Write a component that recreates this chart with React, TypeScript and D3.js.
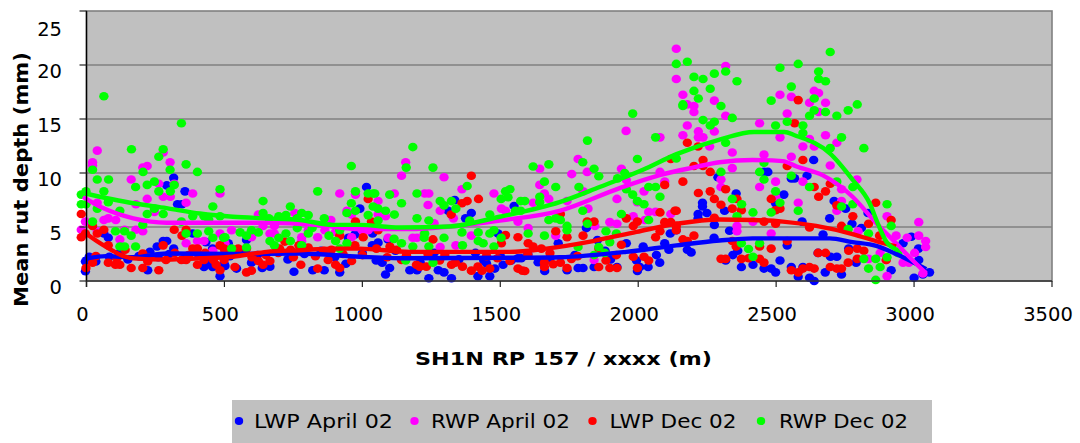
import React from "react";
import * as d3 from "d3";

type P = [number, number];

const xTicks = [0, 500, 1000, 1500, 2000, 2500, 3000, 3500];
const yTicks = [0, 5, 10, 15, 20, 25];

const lwpAprilPoints: P[] = [
[316,9.55],[291,8.85],[357,8.3],[330,7.1],[346,7.1],[63,4.4],[79,4],[278,3.7],[291,3.7],[256,3.2],[316,3],[433,3.6],[385,4.4],[10,2.25],[-4,1.8],[-4,0.9],[83,2.25],[222,1],[457,3],[484,0.45],[457,1.3],[426,1.3],[499,1.6],[34,1.8],
[752,0.85],[820,1],[862,1],[918,0.8],[665,1.33],[637,1.2],[598,1.7],[544,1.15],[1015,8.7],[991,6.7],[973,4.3],[949,4],[1037,4.4],[514,3.5],[580,3.8],[1036,3.3],[502,1.4],
[1323,0.25],[1241,0.25],[1084,0.6],[1099,1.2],[1072,1.7],[1172,1],[1198,1],[1275,1],[1296,0.8],[1419,0.45],[1462,0.45],[1450,1.65],[1480,1.15],[1510,1.5],[1057,3.55],[1093,3.85],[1395,6.3],[1335,7.5],[1311,6.5],[1374,5.8],[1550,6.95],[1492,4.4],[1564,2.1],[1576,2.1],
[1812,4.9],[1710,3.5],[1957,3.5],[1852,3.8],[2096,3.5],[2116,4.4],[2111,2.9],[2066,2.4],[2018,3.2],[2078,1.7],[1994,1.9],[2006,1.3],[2036,1.3],[1661,0.93],[1742,1],[1782,1.2],[1800,1.2],[1840,1.3],[1923,1.3],[1637,1.73],[1997,0.93],
[2233,7.25],[2233,6.9],[2249,6.3],[2217,6.2],[2217,5.8],[2313,6.5],[2289,9.6],[2355,8.1],[2470,10.1],[2456,10.1],[2528,8],[2555,9.5],[2498,7.2],[2138,4.7],[2276,5.2],[2331,4.65],[2275,4],[2178,2.9],[2192,2.65],[2343,2.4],[2361,2.8],[2317,1.9],[2374,1.3],[2416,1.5],[2456,1.15],[2482,1.15],[2498,0.8],[2514,1.9],[2555,1.3],[2540,3.3],
[2636,11.2],[2612,9.75],[2567,9.5],[2710,7.4],[2752,6.7],[2833,6.3],[2694,5.8],[2594,5.5],[2775,5.3],[2809,4.9],[2670,4.3],[2990,4.1],[2960,3.5],[3016,3],[3017,1.95],[2697,2.25],[2720,2.25],[2652,2.6],[2763,3],[2790,1.7],[2917,1],[3056,0.8],[3032,0.6],[3000,0.3],[2580,0.4],[2621,0.3],[2638,0],[2678,0.8],[2737,0.6],[2597,1.3],
[120,2.6],[150,2],[190,2.3],[230,2.7],[260,2.2],[300,2.5],[350,2],[400,2.6],[450,1.7],[520,2.3],[560,2.8],[620,2.4],[690,3],[730,2],[790,2.5],[850,2.8],[900,2.2],[940,1.6],[1000,2.6],[1050,1.9],[1120,2.8],[1160,2.3],[1210,1.7],[1260,2.6],[1350,2],[1410,2.6],[1440,1.9],[1500,2.3],[1540,1.9],[1600,2.5],[1680,2.1],[1770,2.4],[1880,2.8],[1900,2]
];

const rwpAprilPoints: P[] = [
[39,12.07],[22,11],[22,10.7],[204,10.5],[220,10.65],[278,11.9],[303,11],[162,9.4],[262,9],[318,9],[385,8.1],[484,8.1],[278,7.8],[304,7.8],[220,7.6],[361,7.25],[179,7.1],[39,7.25],[246,6.4],[79,5.8],[106,5.65],[-4,5.5],[-19,4.75],[138,4.75],[179,4.75],[204,4.6],[121,3.85],[361,3.5],[402,3.7],[426,3.7],[484,4.4],[458,2.8],[39,4.6],[63,5.65],
[918,8.1],[975,8],[944,6.5],[961,6.15],[755,6.3],[623,6.15],[886,5.65],[526,4.7],[598,4.05],[640,5.1],[681,4.4],[665,4.4],[780,4.05],[780,3.7],[838,4.05],[903,4.55],[961,4.05],[1021,4.7],[999,4.7],[502,3.5],[681,5.1],[804,4.7],[864,4.7],
[1157,11],[1142,9.75],[1296,9.6],[1361,8.5],[1116,8.1],[1226,8.1],[1241,8.1],[1477,8.1],[1057,7.4],[1238,7.04],[1282,6.5],[1504,6.7],[1519,6.5],[1084,6],[1057,6.15],[1330,5.8],[1260,5.35],[1395,4.2],[1183,4],[1198,4],[1093,4],[1224,4.4],[1564,5.5],[1282,3.15],[1339,3.3],
[1956,13.9],[2079,13.3],[1782,11.3],[1643,10.4],[1759,9.9],[1815,10.1],[1939,10.4],[2079,10.1],[2096,9.2],[1957,9.35],[1643,8.9],[1660,8.1],[1676,7.6],[1800,8.3],[1742,7.4],[1923,7.6],[2021,8.3],[1997,7.3],[1818,6.7],[2038,6.4],[2063,6.4],[2118,6.2],[1619,7.25],[1982,6],[2024,5.65],[1601,4.9],[1897,5.45],[1923,5.3],[1843,5.1],[1701,4.2],[1840,1.95],
[2138,21.5],[2317,19.9],[2138,18.7],[2162,17.25],[2276,16.7],[2178,16.35],[2202,16.2],[2202,15.65],[2317,15.3],[2178,14.4],[2276,13.85],[2162,13.5],[2218,13.85],[2218,13.3],[2235,13.3],[2259,12.45],[2341,11.9],[2440,14.6],[2514,17.25],[2555,17.05],[2540,15.5],[2514,13.3],[2456,11.7],[2341,10.45],[2300,9.4],[2300,8.7],[2498,9.2],[2440,8.7],[2358,5.1],[2358,4.6],[2416,5.5],[2482,4.4],[2498,7.8],[2555,11.5],
[2638,17.6],[2654,17.4],[2679,16.5],[2621,16.5],[2654,15.65],[2679,13.5],[2621,13.15],[2720,12.8],[2597,12.45],[2638,12.45],[2696,10.7],[2793,9.4],[2597,9.2],[2737,8.5],[2580,7.25],[2737,7.4],[2720,6.5],[2902,6],[3017,5.45],[2797,4.6],[2935,4.2],[2975,4],[3017,4.2],[3042,3.7],[3042,3.15],[3002,2.6],[2877,2.6],[2835,2.05],[2960,1.7],[2981,1.7],[2902,0.45],[2899,1.95],[3032,0.7]
];

const lwpDecPoints: P[] = [
[-19,6.2],[22,5.1],[-19,4.05],[-4,4.4],[39,4.4],[63,4.75],[318,4.75],[361,4.75],[346,4.2],[79,3.3],[278,3.3],[385,3],[402,3],[484,3.3],[499,3],[-2,1.2],[22,1.7],[79,1.7],[105,1.5],[121,1.5],[162,1.2],[204,1.2],[262,1],[484,1],[402,1.5],[426,1.95],[204,2.55],[222,1.8],[288,1.95],[344,1.95],[361,1.95],[34,2.3],[499,1.95],[460,1.95],
[1021,7.6],[1003,4.05],[918,4.2],[973,3.3],[502,2.7],[538,1.3],[580,0.8],[598,0.96],[623,1.85],[640,1.5],[665,1.85],[777,1.5],[838,1.15],[903,1.5],[961,1.85],[918,1.2],[750,2.2],[876,1.95],[550,3],[580,3],[719,3.65],[695,2.6],[804,3.1],[888,2.9],[975,5.5],[1033,5.5],
[1395,9.75],[1421,7.6],[1380,7.4],[1361,7.2],[1322,6.15],[1256,3.85],[1057,4.7],[1519,4.25],[1564,4.05],[1504,3.5],[1051,3],[1124,2.9],[1238,2.5],[1196,1.5],[1208,1.33],[1232,1.33],[1142,1.95],[1323,1.5],[1337,1.7],[1363,1.33],[1395,0.96],[1419,1.33],[1434,0.96],[1462,1.15],[1535,1.85],[1564,1.15],[1580,0.96],[1299,2.4],
[2096,8.9],[2118,11.3],[1718,6.2],[1815,5.5],[1840,5.5],[1957,5.8],[1997,5.5],[1982,5.1],[2079,6.35],[2133,6.5],[2096,5.45],[2118,5.45],[1701,4.6],[1742,4.05],[1800,4.2],[2079,4.6],[2063,4.05],[1939,3.35],[1601,3.5],[1619,3.2],[1649,3],[1857,3],[1921,2.4],[1982,2.25],[2021,2.25],[2038,1.9],[1883,1.9],[1758,2.05],[1660,1.7],[1660,1.3],[1692,1.55],[1718,1.7],[1742,1.2],[1857,1.3],[1897,1.2],[1923,1.2],[1997,1.2],[1589,0.93],
[2178,12.8],[2217,12.45],[2235,11.2],[2202,10.65],[2235,10.65],[2261,10.1],[2162,9.2],[2317,8.5],[2218,8.15],[2261,8.3],[2276,7.6],[2300,7.06],[2341,6.7],[2358,7.6],[2374,6.55],[2138,6.5],[2482,7.6],[2514,6.7],[2498,6.55],[2540,10.65],[2138,5.1],[2138,4.7],[2276,5.85],[2456,5.5],[2498,5.3],[2202,4.2],[2162,3.85],[2178,3.7],[2341,3.7],[2355,3.2],[2440,3.2],[2482,3],[2540,3.7],[2300,2.05],[2317,2.05],[2374,2.05],[2400,2.1],[2440,2.05],[2456,1.7],[2555,1],
[2580,16.75],[2597,11.2],[2567,14.6],[2696,9],[2638,8.7],[2679,8.3],[2654,7.8],[2861,7.25],[2720,7],[2778,6],[2917,5.65],[2835,5.3],[2737,5.1],[2621,4.95],[2875,4.2],[2763,2.8],[2794,3],[2818,2.8],[2652,2.6],[2679,2.6],[2761,1.7],[2794,2.05],[2899,1.95],[2696,1.3],[2720,1.15],[2737,1.15],[2621,1.3],[2597,1.15],[2638,1.15],[2580,0.8],
[110,2.1],[140,2.9],[230,2.2],[320,2.6],[370,2.4],[430,2.6],[470,1.5],[520,2.5],[600,2.2],[650,2.4],[700,3],[740,2.9],[770,3.3],[830,2.3],[860,2.8],[930,2.5],[1000,2.4],[1090,2.2],[1100,3.2],[1160,2.4],[1280,1.9],[1450,2.3],[1490,2.1],[1600,2.4],[1680,2.6],[1780,2.3]
];

const rwpDecPoints: P[] = [
[63,17.1],[344,14.6],[163,12.2],[278,12.2],[262,11.5],[22,10.3],[303,10.3],[361,10.8],[402,10.1],[205,10.1],[39,9.4],[80,9.4],[246,9.2],[220,8.9],[178,8.7],[318,8.9],[304,8.3],[262,8.3],[63,8.3],[-19,8],[-2,8.3],[484,8.5],[79,7.3],[-19,7.1],[-2,7.1],[39,6.7],[121,6.5],[246,6.7],[458,6.9],[220,6.2],[278,6.2],[385,6],[426,6],[484,6],[22,5.5],[204,5.2],[344,5.5],[443,5.7],[105,4.6],[138,4.6],[162,4.2],[361,4.4],[402,4.4],[443,4.6],[497,4],[458,4],[121,3.2],[138,3.2],[178,3.2],
[960,10.65],[838,8.3],[640,7.4],[975,8.3],[1021,8.1],[1039,8.1],[739,6.9],[960,7.2],[944,6.3],[975,6.5],[1021,6.1],[1039,6.9],[640,6.3],[780,6.3],[723,6.1],[697,6],[804,6.1],[862,5.8],[764,5.8],[661,5.8],[764,4.9],[818,4.9],[918,4.7],[557,4.5],[598,4.7],[623,4.5],[723,4.4],[580,4.2],[804,4.4],[879,4.2],[903,3.7],[739,3.7],[697,4],[665,3.7],[681,3.3],[944,3.5],[502,4.05],[780,3.3],[526,3],[580,3.1],[918,3],
[1183,12.4],[1159,10.5],[1256,10.5],[1380,8.8],[1198,8.1],[1099,8],[1045,8.1],[1142,7.2],[1282,7.4],[1323,7.4],[1503,7.6],[1519,8.3],[1535,8.5],[1528,7.75],[1574,7.4],[1339,6.7],[1296,7],[1057,6.7],[1084,6.5],[1116,6.15],[1198,5.8],[1241,5.6],[1057,5.6],[1389,5.6],[1462,6.15],[1555,6.5],[1574,6.5],[1477,4.7],[1462,4.4],[1420,4.5],[1361,4.5],[1226,4.4],[1224,4],[1296,4],[1503,4],[1115,3.9],[1142,3.5],[1420,3.7],[1438,3.5],[1363,3.3],[1183,3.2],[1241,3.2],[1477,3.2],[1157,1.9],[1256,1.7],
[1980,15.5],[1816,13],[2063,13.3],[1997,11.3],[1799,11],[1619,10.6],[1676,10.8],[1840,10.4],[1857,9.7],[1951,10],[1925,9.5],[1660,9.2],[1701,8.7],[1785,8.7],[1643,7.8],[1643,7.3],[1589,7.4],[1980,8],[1997,7.4],[2021,7.1],[2079,7.8],[2063,8.7],[2038,8.7],[1957,8.5],[1799,6.5],[1939,6.2],[2038,5.65],[1676,5.65],[1701,5.8],[1718,5.65],[1742,5.1],[1742,4.7],[1816,5.3],[1601,4.4],[1660,4.2],[1883,4.6],[1921,4.4],[1897,3.6],[1857,3.15],[1782,3.15],[1879,2.6],[1840,2.4],
[2178,20.3],[2138,20.1],[2276,19.2],[2317,19.4],[2358,18.5],[2202,18.9],[2235,18.7],[2261,17.8],[2202,17.6],[2218,16.9],[2162,16.35],[2162,16.2],[2300,16.2],[2341,15.1],[2235,14.9],[2276,14.75],[2261,14.4],[2317,12.8],[2138,11.35],[2514,19.75],[2555,18],[2482,16.7],[2540,14.75],[2498,14.4],[2300,10.1],[2456,10.95],[2440,10.1],[2555,9.75],[2456,9.4],[2498,8.3],[2514,7.25],[2341,7.6],[2375,7.1],[2482,6.35],[2416,6.35],[2358,6],[2440,3.5],[2400,2.96],[2416,2.25],[2374,3.5],
[2696,21.2],[2580,20.1],[2654,19.4],[2654,18.7],[2679,18.5],[2638,16.9],[2638,15.8],[2679,15.65],[2621,15.3],[2720,15.3],[2761,15.8],[2794,16.35],[2597,14.4],[2597,13.7],[2737,13.3],[2696,12.3],[2818,12.3],[2720,9.2],[2778,8.7],[2621,8.7],[2778,7.1],[2737,6.9],[2902,7.1],[2580,6.5],[2917,5.1],[2761,4.8],[2835,4.4],[2902,2.2],[2861,2.05],[2818,2.05],[2877,1.3],[2835,1.15],[2861,0.1],[2941,2.6]
];

const lwpAprilTrend: P[] = [[-13,2],[70,2.3],[170,2.2],[290,2.55],[531,2.5],[773,2.55],[990,2.25],[1172,2.1],[1534,2.15],[1715,2.2],[1957,2.7],[2139,3.3],[2295,3.75],[2415,3.95],[2694,3.95],[2777,3.6],[2863,3.25],[2935,2.5],[3044,1.1]];
const rwpAprilTrend: P[] = [[-13,7.8],[60,6.75],[170,5.8],[290,5.4],[411,5.4],[653,5.4],[834,5.2],[990,4.8],[1172,4.8],[1317,5.05],[1498,5.6],[1715,6.5],[1933,8.6],[2078,9.8],[2198,10.5],[2295,11],[2415,11.2],[2524,11.1],[2574,10.6],[2668,9.8],[2777,7.8],[2863,5.35],[2935,3.5],[2982,2.25],[3044,0.7]];
const lwpDecTrend: P[] = [[-13,4.6],[49,3.5],[170,2.1],[290,1.98],[411,2.1],[531,2.25],[653,2.7],[773,2.85],[894,3],[990,3],[1172,2.7],[1353,2.7],[1534,2.7],[1667,3],[1836,3.7],[1994,4.55],[2139,5.3],[2295,5.7],[2415,5.65],[2524,5.5],[2645,5.1],[2777,4.35],[2875,3.6],[2935,3.2]];
const rwpDecTrend: P[] = [[-13,8.15],[170,7.2],[290,6.75],[411,6.25],[531,5.95],[653,5.8],[773,5.65],[894,5.2],[990,5.2],[1135,4.95],[1317,5.05],[1498,5.95],[1715,7.3],[1860,8.7],[2017,10.3],[2139,11.75],[2295,13.1],[2420,13.8],[2530,13.8],[2567,13.5],[2696,11.8],[2778,9.35],[2839,7.2],[2869,5.3],[2899,3.65],[2941,2.85]];

const seriesNames = ["LWP April 02", "RWP April 02", "LWP Dec 02", "RWP Dec 02"];
const seriesColors = ["#0000FF", "#FF00FF", "#FF0000", "#00FF00"];
const seriesPoints = [lwpAprilPoints, rwpAprilPoints, lwpDecPoints, rwpDecPoints];
const seriesTrends = [lwpAprilTrend, rwpAprilTrend, lwpDecTrend, rwpDecTrend];

const FONT = "'DejaVu Sans', Verdana, sans-serif";
const plot = { left: 86.5, right: 1052, top: 11, bottom: 281 };
const legendDotX = [239, 414.5, 592.5, 761];
const legendTextX = [254, 431, 609.5, 779];
const legendTextW = [139, 139, 127, 129];

export default function App() {
  const x = d3.scaleLinear().domain([0, 3500]).range([plot.left, plot.right]);
  const y = d3.scaleLinear().domain([0, 25]).range([plot.bottom, plot.top]);
  const line = d3.line<P>().x((d) => x(d[0])).y((d) => y(d[1])).curve(d3.curveMonotoneX);
  return (
    <svg width={1080} height={443} style={{ position: "absolute", left: 0, top: 0, background: "#fff" }} fontFamily={FONT}>
      <rect x={plot.left} y={plot.top} width={plot.right - plot.left} height={plot.bottom - plot.top} fill="#C0C0C0" stroke="#808080" strokeWidth={1.6} />
      {yTicks.filter((t) => t > 0 && t < 25).map((t) => (
        <line key={t} x1={plot.left} x2={plot.right} y1={y(t)} y2={y(t)} stroke="#808080" strokeWidth={1.6} />
      ))}
      {seriesPoints.map((pts, i) => (
        <g key={seriesNames[i]}>
          {pts.map((d, j) => (
            <ellipse key={j} cx={x(d[0])} cy={y(d[1])} rx={4.7} ry={4.3} fill={seriesColors[i]} />
          ))}
        </g>
      ))}
      {seriesTrends.map((t, i) => (
        <path key={i} d={line(t) || ""} fill="none" stroke={seriesColors[i]} strokeWidth={4.4} />
      ))}
      <line x1={plot.left} x2={plot.left} y1={plot.top} y2={plot.bottom + 6} stroke="#000" strokeWidth={1.4} />
      <line x1={plot.left} x2={plot.right} y1={plot.bottom} y2={plot.bottom} stroke="#333" strokeWidth={1.6} />
      {yTicks.map((t) => (
        <g key={t}>
          <line x1={plot.left - 7} x2={plot.left} y1={y(t)} y2={y(t)} stroke="#222" strokeWidth={1.2} />
          <text x={62} y={y(t) + (t === 25 ? 25 : 13)} textAnchor="end" fontSize={19.5} fill="#000">{t}</text>
        </g>
      ))}
      {xTicks.map((t) => (
        <g key={t}>
          <line x1={x(t)} x2={x(t)} y1={plot.bottom} y2={plot.bottom + 6} stroke="#222" strokeWidth={1.2} />
          <text x={x(t) - 4} y={321} textAnchor="middle" fontSize={19.5} fill="#000">{t}</text>
        </g>
      ))}
      <text x={415} y={365} fontSize={18.5} fontWeight="bold" fill="#000" textLength={297} lengthAdjust="spacingAndGlyphs">SH1N RP 157 / xxxx (m)</text>
      <text transform="translate(28,307) rotate(-90)" fontSize={20} fontWeight="bold" fill="#000" textLength={255} lengthAdjust="spacingAndGlyphs">Mean rut depth (mm)</text>
      <rect x={232} y={400} width={700} height={43} fill="#C0C0C0" />
      {seriesNames.map((n, i) => (
        <g key={n}>
          <ellipse cx={legendDotX[i]} cy={421} rx={4.2} ry={4} fill={seriesColors[i]} />
          <text x={legendTextX[i]} y={428} fontSize={20} fill="#000" textLength={legendTextW[i]} lengthAdjust="spacingAndGlyphs">{n}</text>
        </g>
      ))}
    </svg>
  );
}
